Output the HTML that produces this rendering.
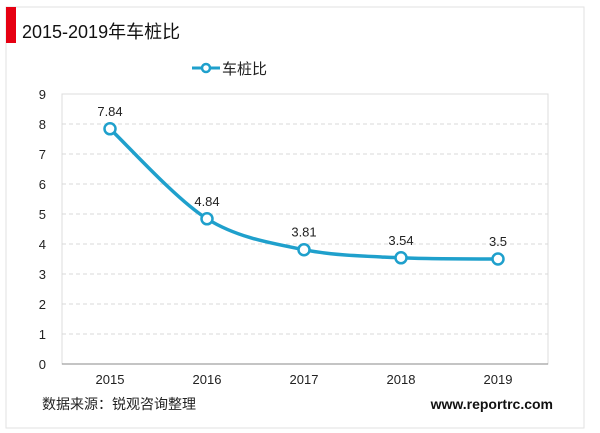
<!DOCTYPE html>
<html><head><meta charset="utf-8">
<style>
html,body{margin:0;padding:0;background:#fff;}
svg{display:block;font-family:"Liberation Sans","Noto Sans CJK SC",sans-serif;}
</style></head>
<body>
<svg id="chart" width="600" height="433" viewBox="0 0 600 433">
  <rect x="6" y="7" width="578" height="421" fill="#fff" stroke="#e2e2e2" stroke-width="1"/>
  <rect x="6" y="7" width="10" height="36" fill="#e60012"/>
  <text x="22" y="38" font-size="18" fill="#111">2015-2019年车桩比</text>
  <g>
    <line x1="192" y1="68" x2="220" y2="68" stroke="#1fa0cc" stroke-width="3"/>
    <circle cx="206" cy="68" r="4" fill="#fff" stroke="#1fa0cc" stroke-width="2.5"/>
    <text x="222" y="74" font-size="15" fill="#222">车桩比</text>
  </g>
  <rect x="62" y="94" width="486" height="270" fill="none" stroke="#dcdcdc"/>
  <g id="grid"></g>
  <g id="yticks"></g>
  <g id="xticks"></g>
  <line x1="62" y1="364" x2="548" y2="364" stroke="#888" stroke-width="1"/>
  <path id="line" fill="none" stroke="#1fa0cc" stroke-width="3.5"/>
  <g id="points"></g>
  <text x="42" y="409" font-size="14" fill="#222">数据来源：锐观咨询整理</text>
  <text x="553" y="409" font-size="14" font-weight="bold" fill="#111" text-anchor="end">www.reportrc.com</text>
</svg>
<script>
const categories = ["2015","2016","2017","2018","2019"];
const values = [7.84, 4.84, 3.81, 3.54, 3.5];
const labels = ["7.84","4.84","3.81","3.54","3.5"];
const yTicks = [0,1,2,3,4,5,6,7,8,9];
const NS = "http://www.w3.org/2000/svg";
const x = i => 110 + i * 97;
const y = v => 364 - v * 30;
const grid = document.getElementById('grid');
const yt = document.getElementById('yticks');
yTicks.forEach(t => {
  if (t > 0 && t < 9) {
    const l = document.createElementNS(NS, 'line');
    
    
    l.setAttribute('x1', 62); l.setAttribute('x2', 548);
    l.setAttribute('y1', y(t)); l.setAttribute('y2', y(t));
    l.setAttribute('stroke', '#d9d9d9'); l.setAttribute('stroke-dasharray', '4,3');
    grid.appendChild(l);
  }
  const tx = document.createElementNS(NS, 'text');
  
  
  tx.setAttribute('x', 46); tx.setAttribute('y', y(t) + 5);
  tx.setAttribute('font-size', '13'); tx.setAttribute('fill', '#222');
  tx.setAttribute('text-anchor', 'end');
  tx.textContent = t;
  yt.appendChild(tx);
});
const xt = document.getElementById('xticks');
categories.forEach((c, i) => {
  const tx = document.createElementNS(NS, 'text');
  
  
  tx.setAttribute('x', x(i)); tx.setAttribute('y', 384);
  tx.setAttribute('font-size', '13'); tx.setAttribute('fill', '#222');
  tx.setAttribute('text-anchor', 'middle');
  tx.textContent = c;
  xt.appendChild(tx);
});
// smooth curve (Catmull-Rom)
const pts = values.map((v, i) => [x(i), y(v)]);
let d = `M${pts[0][0]},${pts[0][1]}`;
for (let i = 0; i < pts.length - 1; i++) {
  const p0 = pts[Math.max(i - 1, 0)], p1 = pts[i], p2 = pts[i + 1], p3 = pts[Math.min(i + 2, pts.length - 1)];
  const t = 0.16;
  const c1 = [p1[0] + (p2[0] - p0[0]) * t, p1[1] + (p2[1] - p0[1]) * t];
  const c2 = [p2[0] - (p3[0] - p1[0]) * t, p2[1] - (p3[1] - p1[1]) * t];
  d += ` C${c1[0]},${c1[1]} ${c2[0]},${c2[1]} ${p2[0]},${p2[1]}`;
}
document.getElementById('line').setAttribute('d', d);
const pg = document.getElementById('points');
values.forEach((v, i) => {
  const c = document.createElementNS(NS, 'circle');
  
  
  c.setAttribute('cx', x(i)); c.setAttribute('cy', y(v)); c.setAttribute('r', 5.5);
  c.setAttribute('fill', '#fff'); c.setAttribute('stroke', '#1fa0cc'); c.setAttribute('stroke-width', '2.5');
  pg.appendChild(c);
  const tx = document.createElementNS(NS, 'text');
  
  
  tx.setAttribute('x', x(i)); tx.setAttribute('y', y(v) - 13);
  tx.setAttribute('font-size', '13'); tx.setAttribute('fill', '#222');
  tx.setAttribute('text-anchor', 'middle');
  tx.textContent = labels[i];
  pg.appendChild(tx);
});
</script>
</body></html>
